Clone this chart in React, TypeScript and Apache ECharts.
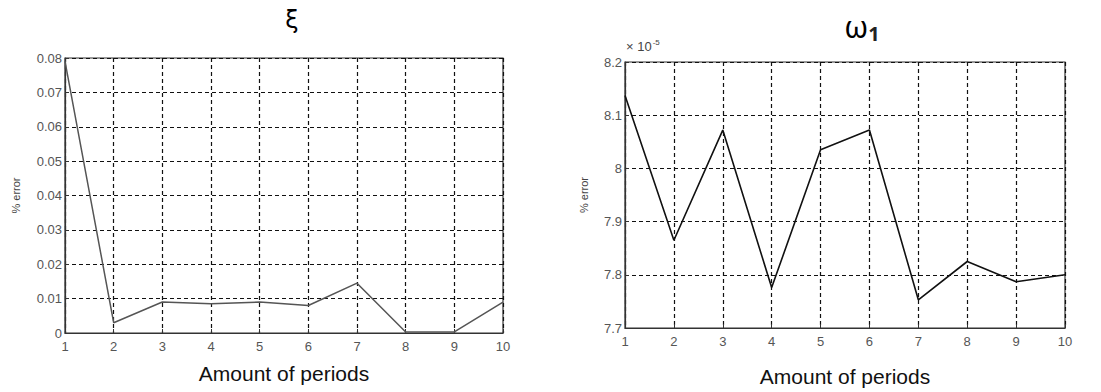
import React, { useEffect, useRef } from "react";
import * as echarts from "echarts";

const periods = [1, 2, 3, 4, 5, 6, 7, 8, 9, 10];
const xiError = [0.079, 0.003, 0.009, 0.0085, 0.009, 0.008, 0.0145, 0.0003, 0.0003, 0.009];
const omegaError = [8.137, 7.865, 8.072, 7.776, 8.035, 8.072, 7.753, 7.825, 7.787, 7.8];
const leftTitle = "ξ";
const xName = "Amount of periods";
const yName = "% error";

const FONT = "'Liberation Sans', Arial, sans-serif";

export default function App() {
  const ref = useRef<HTMLDivElement>(null);
  useEffect(() => {
    document.body.style.margin = "0";
    const chart = echarts.init(ref.current!, null, { renderer: "svg" });
    const splitLine = { show: true, lineStyle: { color: "#111", type: [4, 3] as any, width: 1.2 } };
    const axisLine = { show: true, lineStyle: { color: "#333", width: 1.2 } };
    const axisTick = { show: true, inside: true, length: 4, lineStyle: { color: "#333" } };
    const axisLabel = { color: "#555", fontSize: 13, fontFamily: FONT };
    const mkX = (gi: number) => ({
      type: "value",
      gridIndex: gi,
      min: 1,
      max: 10,
      interval: 1,
      name: xName,
      nameLocation: "middle",
      nameGap: gi === 0 ? 30 : 38,
      nameTextStyle: { fontSize: 21, color: "#111", fontFamily: FONT },
      axisLine,
      axisTick,
      axisLabel: { ...axisLabel, margin: 7 },
      splitLine,
    });
    chart.setOption({
      animation: false,
      backgroundColor: "#fff",
      grid: [
        { left: 65, right: 598, top: 58, bottom: 59, show: true, borderColor: "#333", borderWidth: 1.2, backgroundColor: "transparent" },
        { left: 625, right: 36, top: 62, bottom: 54, show: true, borderColor: "#333", borderWidth: 1.2, backgroundColor: "transparent" },
      ],
      xAxis: [mkX(0), mkX(1)],
      yAxis: [
        {
          type: "value",
          gridIndex: 0,
          min: 0,
          max: 0.08,
          interval: 0.01,
          name: yName,
          nameLocation: "middle",
          nameGap: 44,
          nameTextStyle: { fontSize: 11, color: "#444", fontFamily: FONT },
          axisLine,
          axisTick,
          axisLabel: { ...axisLabel, margin: 3 },
          splitLine,
        },
        {
          type: "value",
          gridIndex: 1,
          min: 7.7,
          max: 8.2,
          interval: 0.1,
          name: yName,
          nameLocation: "middle",
          nameGap: 36,
          nameTextStyle: { fontSize: 11, color: "#444", fontFamily: FONT },
          axisLine,
          axisTick,
          axisLabel: { ...axisLabel, margin: 3, formatter: (v: number) => String(Math.round(v * 10) / 10) },
          splitLine,
        },
      ],
      series: [
        {
          type: "line",
          xAxisIndex: 0,
          yAxisIndex: 0,
          data: periods.map((p, i) => [p, xiError[i]]),
          showSymbol: false,
          lineStyle: { color: "#555", width: 1.5 },
        },
        {
          type: "line",
          xAxisIndex: 1,
          yAxisIndex: 1,
          data: periods.map((p, i) => [p, omegaError[i]]),
          showSymbol: false,
          lineStyle: { color: "#111", width: 1.6 },
        },
      ],
      graphic: [
        {
          type: "text",
          x: 292,
          y: 20,
          style: { text: leftTitle, fontSize: 24, fontFamily: "'DejaVu Sans', sans-serif", fill: "#000", align: "center", verticalAlign: "middle" },
        },
        {
          type: "text",
          x: 862,
          y: 26,
          style: {
            text: "{a|ω}{b|1}",
            align: "center",
            verticalAlign: "middle",
            rich: {
              a: { fontSize: 30, fontFamily: "'Noto Sans', sans-serif", fill: "#000" } as any,
              b: { fontSize: 20, fontFamily: "'Noto Sans', sans-serif", fontWeight: "bold", fill: "#222", padding: [14, 0, 0, 0] } as any,
            },
          },
        },
        {
          type: "text",
          x: 626,
          y: 55,
          style: {
            text: "{a|× 10}{b|-5}",
            verticalAlign: "bottom",
            rich: {
              a: { fontSize: 13, fontFamily: FONT, fill: "#444" } as any,
              b: { fontSize: 8, fontFamily: FONT, fill: "#444", padding: [0, 0, 9, 1] } as any,
            },
          },
        },
      ],
    });
    return () => chart.dispose();
  }, []);
  return <div ref={ref} style={{ width: 1101, height: 392 }} />;
}
